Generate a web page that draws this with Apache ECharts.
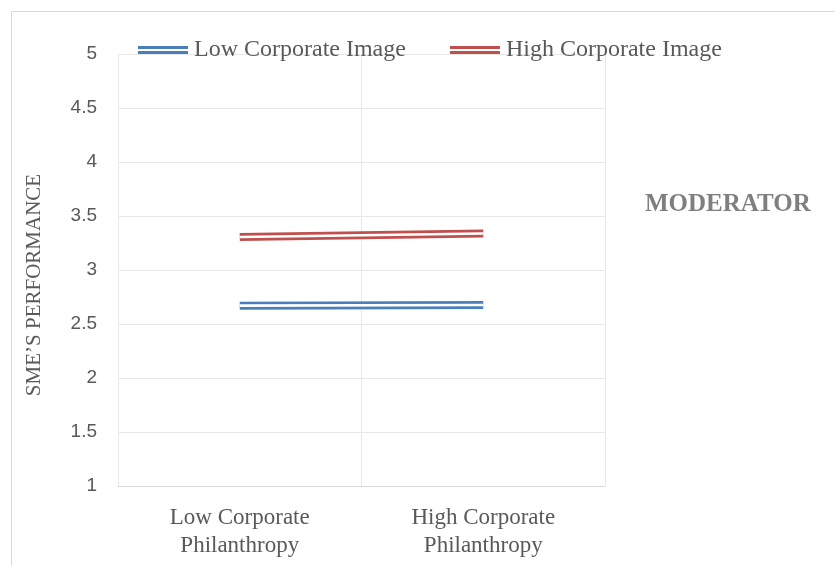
<!DOCTYPE html>
<html>
<head>
<meta charset="utf-8">
<script src="https://cdn.jsdelivr.net/npm/echarts@6/dist/echarts.min.js"></script>
<style>html,body{margin:0;padding:0;background:#fff;}#c{width:835px;height:566px;}</style>
</head>
<body>
<div id="c"></div>
<script>
var categories = ['Low Corporate\nPhilanthropy', 'High Corporate\nPhilanthropy'];
var seriesNames = ['Low Corporate Image', 'High Corporate Image'];
var lowImage = [2.67, 2.676];
var highImage = [3.306, 3.338];
var yTicks = { min: 1, max: 5, interval: 0.5 };

var colors = ['#4a7ebb', '#c0504d'];
var serif = '"Liberation Serif", "Times New Roman", serif';
var sans = '"Liberation Sans", Arial, sans-serif';
var dblIcon = 'path://M0,0H50V3H0Z M0,5H50V8H0Z';

function dbl(name, data, color, z) {
  return [
    { name: name, type: 'line', data: data, symbol: 'none', z: z, silent: true,
      lineStyle: { color: color, width: 8 }, itemStyle: { color: color } },
    { name: name + ' (gap)', type: 'line', data: data, symbol: 'none', z: z + 1, silent: true,
      lineStyle: { color: '#ffffff', width: 2.6 }, itemStyle: { color: '#ffffff' } }
  ];
}

var chart = echarts.init(document.getElementById('c'), null, { renderer: 'canvas' });
chart.setOption({
  animation: false,
  backgroundColor: '#ffffff',
  graphic: [{
    type: 'rect', left: 9, top: 9, silent: true,
    shape: { width: 900, height: 700 },
    style: { fill: 'none', stroke: '#d9d9d9', lineWidth: 1 }
  }],
  title: {
    text: 'MODERATOR',
    left: 640, top: 187,
    textStyle: { fontFamily: serif, fontWeight: 'bold', fontSize: 25, color: '#7f7f7f' }
  },
  legend: {
    data: [
      { name: seriesNames[0], icon: dblIcon, itemStyle: { color: colors[0] } },
      { name: seriesNames[1], icon: dblIcon, itemStyle: { color: colors[1] } }
    ],
    left: 133, top: 33,
    itemWidth: 50, itemHeight: 8, itemGap: 44,
    textStyle: { fontFamily: serif, fontSize: 24, color: '#595959', padding: [0, 0, 0, 1] }
  },
  grid: { left: 118, right: 230, top: 54, bottom: 80, containLabel: false },
  xAxis: {
    type: 'category',
    data: categories,
    boundaryGap: true,
    axisLine: { show: true, lineStyle: { color: '#d9d9d9' } },
    axisTick: { show: false },
    splitLine: { show: true, interval: 0, lineStyle: { color: '#e8e8e8' } },
    axisLabel: { fontFamily: serif, fontSize: 23, color: '#595959', lineHeight: 28, margin: 18, interval: 0 }
  },
  yAxis: {
    type: 'value',
    min: yTicks.min, max: yTicks.max, interval: yTicks.interval,
    name: 'SME\u2019S PERFORMANCE',
    nameLocation: 'middle',
    nameRotate: 90,
    nameGap: 73,
    nameTextStyle: { fontFamily: serif, fontSize: 21, color: '#595959', padding: [0, 0, 0, -30] },
    axisLine: { show: false },
    axisTick: { show: false },
    splitLine: { show: true, lineStyle: { color: '#e8e8e8' } },
    axisLabel: { fontFamily: sans, fontSize: 19, color: '#595959', margin: 21 }
  },
  series: [].concat(
    dbl(seriesNames[0], lowImage, colors[0], 2),
    dbl(seriesNames[1], highImage, colors[1], 4)
  )
});
</script>
</body>
</html>
